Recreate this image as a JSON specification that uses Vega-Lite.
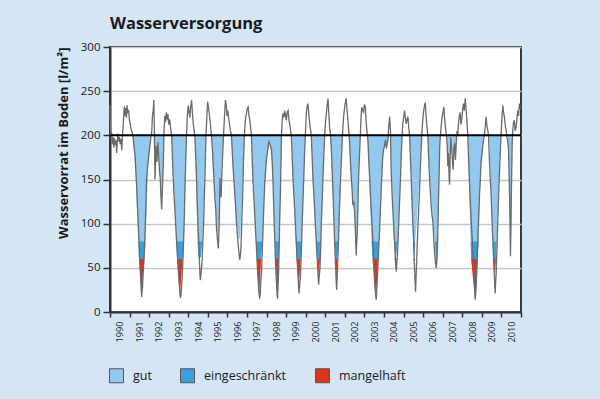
{
 "$schema": "https://vega.github.io/schema/vega-lite/v6.json",
 "width": 411, "height": 265,
 "autosize": {"type": "none"},
 "padding": {"left": 110, "top": 47, "right": 79, "bottom": 87},
 "background": "#d4e6f6",
 "title": {"text": "Wasserversorgung", "anchor": "start", "frame": "group", "fontSize": 16.5, "font": "Open Sans", "fontWeight": "bold", "color": "#1a1a1a", "offset": 9},
 "config": {
  "font": "Open Sans",
  "view": {"fill": "white", "stroke": "#3a3a3a", "strokeWidth": 2},
  "axisX": {"labelAngle": -90, "labelOffset": 9.8, "labelFontSize": 9.2, "labelColor": "#1a1a1a", "labelPadding": 4, "labelOverlap": false, "labelFlush": false, "labelBound": false, "grid": false, "domainColor": "#333", "domainWidth": 2, "tickColor": "#333", "tickWidth": 1.5, "tickSize": 5},
  "axisY": {"grid": true, "gridColor": "#c6c6c6", "gridWidth": 1.5, "domainColor": "#333", "domainWidth": 2, "tickColor": "#333", "tickWidth": 1.5, "tickSize": 7, "labelFontSize": 11.5, "labelColor": "#1a1a1a", "labelPadding": 3, "titleFontSize": 13, "titleFontWeight": "bold", "titleColor": "#1a1a1a", "titleAnchor": "end", "titlePadding": 10},
  "legend": {"orient": "none", "legendX": -1, "legendY": 321, "direction": "horizontal", "symbolType": "square", "symbolSize": 196, "symbolStrokeColor": "#555", "symbolStrokeWidth": 1, "symbolOpacity": 1, "labelFontSize": 12.5, "labelColor": "#1a1a1a", "labelOffset": 9, "columnPadding": 26, "padding": 0, "title": null}
 },
 "datasets": {
  "line": [
   {"t":1990.00,"v":234},{"t":1990.02,"v":212},{"t":1990.04,"v":200},{"t":1990.06,"v":196},{"t":1990.09,"v":203},{"t":1990.12,"v":190},{"t":1990.15,"v":198},{"t":1990.19,"v":186},{"t":1990.23,"v":197},{"t":1990.27,"v":189},{"t":1990.31,"v":194},{"t":1990.34,"v":180},{"t":1990.37,"v":192},{"t":1990.40,"v":202},{"t":1990.44,"v":193},{"t":1990.48,"v":198},{"t":1990.52,"v":190},{"t":1990.56,"v":196},{"t":1990.60,"v":183},{"t":1990.64,"v":200},{"t":1990.68,"v":214},{"t":1990.71,"v":226},{"t":1990.74,"v":233},{"t":1990.77,"v":222},{"t":1990.80,"v":231},{"t":1990.84,"v":220},{"t":1990.87,"v":234},{"t":1990.91,"v":225},{"t":1990.95,"v":229},{"t":1990.99,"v":218},{"t":1991.04,"v":212},{"t":1991.09,"v":206},{"t":1991.14,"v":203},{"t":1991.19,"v":196},
   {"t":1991.24,"v":185},{"t":1991.28,"v":178},{"t":1991.32,"v":160},{"t":1991.36,"v":144},{"t":1991.40,"v":120},{"t":1991.44,"v":102},{"t":1991.48,"v":80},{"t":1991.51,"v":64},{"t":1991.55,"v":45},{"t":1991.58,"v":31},{"t":1991.62,"v":17},{"t":1991.64,"v":24},{"t":1991.66,"v":27},{"t":1991.69,"v":42},{"t":1991.73,"v":57},{"t":1991.76,"v":70},{"t":1991.79,"v":87},{"t":1991.83,"v":120},{"t":1991.87,"v":151},{"t":1991.91,"v":162},{"t":1991.95,"v":170},{"t":1991.99,"v":180},{"t":1992.04,"v":189},{"t":1992.09,"v":198},{"t":1992.13,"v":203},{"t":1992.17,"v":222},{"t":1992.21,"v":229},{"t":1992.24,"v":240},{"t":1992.27,"v":205},
   {"t":1992.30,"v":150},{"t":1992.33,"v":172},{"t":1992.36,"v":188},{"t":1992.39,"v":170},{"t":1992.42,"v":180},{"t":1992.45,"v":192},{"t":1992.49,"v":175},{"t":1992.53,"v":160},{"t":1992.57,"v":150},{"t":1992.60,"v":132},{"t":1992.64,"v":116},{"t":1992.68,"v":140},{"t":1992.72,"v":165},{"t":1992.76,"v":205},{"t":1992.80,"v":222},{"t":1992.84,"v":215},{"t":1992.88,"v":226},{"t":1992.92,"v":218},{"t":1992.96,"v":224},{"t":1993.00,"v":212},{"t":1993.05,"v":218},{"t":1993.10,"v":208},{"t":1993.15,"v":200},
   {"t":1993.19,"v":175},{"t":1993.23,"v":151},{"t":1993.28,"v":130},{"t":1993.32,"v":114},{"t":1993.36,"v":97},{"t":1993.40,"v":80},{"t":1993.44,"v":65},{"t":1993.48,"v":50},{"t":1993.53,"v":35},{"t":1993.57,"v":22},{"t":1993.60,"v":16},{"t":1993.63,"v":20},{"t":1993.66,"v":30},{"t":1993.69,"v":40},{"t":1993.73,"v":60},{"t":1993.76,"v":80},{"t":1993.80,"v":110},{"t":1993.83,"v":140},{"t":1993.87,"v":172},{"t":1993.91,"v":200},{"t":1993.95,"v":222},{"t":1994.00,"v":234},{"t":1994.04,"v":226},{"t":1994.08,"v":220},{"t":1994.12,"v":232},{"t":1994.17,"v":240},{"t":1994.21,"v":225},{"t":1994.25,"v":214},{"t":1994.30,"v":205},{"t":1994.34,"v":198},
   {"t":1994.38,"v":175},{"t":1994.42,"v":151},{"t":1994.46,"v":120},{"t":1994.50,"v":95},{"t":1994.54,"v":78},{"t":1994.57,"v":58},{"t":1994.60,"v":40},{"t":1994.62,"v":36},{"t":1994.65,"v":44},{"t":1994.68,"v":50},{"t":1994.71,"v":60},{"t":1994.74,"v":78},{"t":1994.78,"v":98},{"t":1994.82,"v":130},{"t":1994.85,"v":151},{"t":1994.88,"v":178},{"t":1994.91,"v":202},{"t":1994.95,"v":222},{"t":1994.99,"v":238},{"t":1995.03,"v":232},{"t":1995.07,"v":225},{"t":1995.10,"v":219},{"t":1995.15,"v":208},{"t":1995.19,"v":198},
   {"t":1995.23,"v":185},{"t":1995.27,"v":168},{"t":1995.31,"v":150},{"t":1995.36,"v":128},{"t":1995.40,"v":118},{"t":1995.44,"v":95},{"t":1995.49,"v":82},{"t":1995.53,"v":72},{"t":1995.56,"v":85},{"t":1995.59,"v":110},{"t":1995.62,"v":152},{"t":1995.65,"v":140},{"t":1995.68,"v":130},{"t":1995.71,"v":155},{"t":1995.75,"v":175},{"t":1995.78,"v":190},{"t":1995.82,"v":208},{"t":1995.86,"v":226},{"t":1995.90,"v":240},{"t":1995.94,"v":234},{"t":1995.98,"v":222},{"t":1996.02,"v":228},{"t":1996.06,"v":220},{"t":1996.10,"v":214},{"t":1996.15,"v":205},{"t":1996.20,"v":202},
   {"t":1996.25,"v":180},{"t":1996.29,"v":163},{"t":1996.33,"v":150},{"t":1996.38,"v":132},{"t":1996.42,"v":118},{"t":1996.46,"v":102},{"t":1996.50,"v":90},{"t":1996.55,"v":76},{"t":1996.59,"v":66},{"t":1996.63,"v":59},{"t":1996.66,"v":64},{"t":1996.69,"v":72},{"t":1996.72,"v":92},{"t":1996.75,"v":114},{"t":1996.79,"v":140},{"t":1996.82,"v":170},{"t":1996.86,"v":196},{"t":1996.89,"v":210},{"t":1996.93,"v":220},{"t":1996.97,"v":224},{"t":1997.01,"v":230},{"t":1997.06,"v":232},{"t":1997.10,"v":222},{"t":1997.14,"v":218},{"t":1997.19,"v":208},{"t":1997.23,"v":198},
   {"t":1997.27,"v":170},{"t":1997.31,"v":146},{"t":1997.36,"v":125},{"t":1997.40,"v":108},{"t":1997.44,"v":90},{"t":1997.48,"v":74},{"t":1997.52,"v":55},{"t":1997.57,"v":36},{"t":1997.61,"v":22},{"t":1997.65,"v":15},{"t":1997.68,"v":22},{"t":1997.71,"v":35},{"t":1997.74,"v":45},{"t":1997.78,"v":70},{"t":1997.82,"v":93},{"t":1997.86,"v":120},{"t":1997.91,"v":146},{"t":1997.95,"v":160},{"t":1997.99,"v":172},{"t":1998.04,"v":180},{"t":1998.08,"v":187},{"t":1998.12,"v":193},{"t":1998.16,"v":191},{"t":1998.20,"v":188},{"t":1998.25,"v":184},
   {"t":1998.29,"v":168},{"t":1998.33,"v":146},{"t":1998.37,"v":115},{"t":1998.42,"v":81},{"t":1998.46,"v":55},{"t":1998.50,"v":36},{"t":1998.53,"v":22},{"t":1998.56,"v":15},{"t":1998.59,"v":30},{"t":1998.62,"v":51},{"t":1998.66,"v":95},{"t":1998.71,"v":138},{"t":1998.76,"v":198},{"t":1998.80,"v":218},{"t":1998.84,"v":225},{"t":1998.88,"v":220},{"t":1998.93,"v":228},{"t":1998.97,"v":222},{"t":1999.01,"v":217},{"t":1999.05,"v":226},{"t":1999.10,"v":228},{"t":1999.14,"v":218},{"t":1999.18,"v":213},{"t":1999.23,"v":205},{"t":1999.27,"v":198},
   {"t":1999.31,"v":175},{"t":1999.35,"v":151},{"t":1999.40,"v":130},{"t":1999.44,"v":114},{"t":1999.48,"v":95},{"t":1999.52,"v":78},{"t":1999.56,"v":60},{"t":1999.61,"v":40},{"t":1999.64,"v":28},{"t":1999.66,"v":21},{"t":1999.69,"v":30},{"t":1999.73,"v":40},{"t":1999.77,"v":65},{"t":1999.81,"v":93},{"t":1999.85,"v":120},{"t":1999.90,"v":151},{"t":1999.94,"v":178},{"t":1999.98,"v":200},{"t":2000.03,"v":225},{"t":2000.08,"v":234},{"t":2000.12,"v":235},{"t":2000.17,"v":221},{"t":2000.22,"v":210},{"t":2000.26,"v":205},{"t":2000.29,"v":198},
   {"t":2000.33,"v":175},{"t":2000.37,"v":151},{"t":2000.42,"v":132},{"t":2000.46,"v":114},{"t":2000.50,"v":95},{"t":2000.55,"v":76},{"t":2000.59,"v":58},{"t":2000.63,"v":42},{"t":2000.66,"v":31},{"t":2000.69,"v":40},{"t":2000.73,"v":50},{"t":2000.77,"v":75},{"t":2000.80,"v":102},{"t":2000.84,"v":125},{"t":2000.88,"v":151},{"t":2000.92,"v":175},{"t":2000.97,"v":200},{"t":2001.01,"v":215},{"t":2001.06,"v":226},{"t":2001.10,"v":235},{"t":2001.14,"v":242},{"t":2001.18,"v":225},{"t":2001.22,"v":209},{"t":2001.27,"v":200},
   {"t":2001.31,"v":185},{"t":2001.35,"v":160},{"t":2001.40,"v":132},{"t":2001.44,"v":105},{"t":2001.48,"v":76},{"t":2001.52,"v":55},{"t":2001.55,"v":38},{"t":2001.58,"v":25},{"t":2001.61,"v":40},{"t":2001.65,"v":64},{"t":2001.69,"v":92},{"t":2001.73,"v":121},{"t":2001.77,"v":145},{"t":2001.82,"v":170},{"t":2001.86,"v":192},{"t":2001.90,"v":209},{"t":2001.94,"v":222},{"t":2001.99,"v":232},{"t":2002.03,"v":238},{"t":2002.07,"v":242},{"t":2002.11,"v":228},{"t":2002.16,"v":217},{"t":2002.20,"v":205},
   {"t":2002.24,"v":193},{"t":2002.28,"v":172},{"t":2002.33,"v":151},{"t":2002.37,"v":138},{"t":2002.41,"v":121},{"t":2002.45,"v":125},{"t":2002.48,"v":118},{"t":2002.50,"v":114},{"t":2002.54,"v":90},{"t":2002.58,"v":64},{"t":2002.61,"v":80},{"t":2002.63,"v":87},{"t":2002.67,"v":120},{"t":2002.70,"v":151},{"t":2002.75,"v":178},{"t":2002.79,"v":200},{"t":2002.83,"v":222},{"t":2002.87,"v":232},{"t":2002.91,"v":228},{"t":2002.96,"v":226},{"t":2003.00,"v":235},{"t":2003.05,"v":232},{"t":2003.09,"v":215},{"t":2003.13,"v":204},{"t":2003.18,"v":194},
   {"t":2003.22,"v":172},{"t":2003.27,"v":151},{"t":2003.31,"v":132},{"t":2003.35,"v":114},{"t":2003.40,"v":95},{"t":2003.44,"v":76},{"t":2003.48,"v":55},{"t":2003.52,"v":34},{"t":2003.56,"v":22},{"t":2003.60,"v":14},{"t":2003.63,"v":25},{"t":2003.66,"v":38},{"t":2003.69,"v":50},{"t":2003.73,"v":72},{"t":2003.78,"v":95},{"t":2003.82,"v":118},{"t":2003.86,"v":140},{"t":2003.90,"v":160},{"t":2003.94,"v":177},{"t":2003.99,"v":185},{"t":2004.03,"v":189},{"t":2004.08,"v":195},{"t":2004.12,"v":185},{"t":2004.16,"v":190},{"t":2004.20,"v":193},{"t":2004.24,"v":210},{"t":2004.29,"v":221},{"t":2004.33,"v":205},
   {"t":2004.37,"v":157},{"t":2004.41,"v":135},{"t":2004.46,"v":112},{"t":2004.50,"v":95},{"t":2004.54,"v":78},{"t":2004.58,"v":60},{"t":2004.61,"v":50},{"t":2004.63,"v":46},{"t":2004.66,"v":58},{"t":2004.69,"v":66},{"t":2004.71,"v":74},{"t":2004.75,"v":100},{"t":2004.80,"v":127},{"t":2004.84,"v":150},{"t":2004.88,"v":176},{"t":2004.92,"v":198},{"t":2004.96,"v":213},{"t":2005.01,"v":222},{"t":2005.05,"v":228},{"t":2005.09,"v":220},{"t":2005.14,"v":213},{"t":2005.18,"v":218},{"t":2005.22,"v":221},{"t":2005.27,"v":208},{"t":2005.31,"v":198},
   {"t":2005.35,"v":175},{"t":2005.39,"v":151},{"t":2005.43,"v":125},{"t":2005.47,"v":102},{"t":2005.50,"v":90},{"t":2005.52,"v":76},{"t":2005.55,"v":55},{"t":2005.58,"v":38},{"t":2005.61,"v":23},{"t":2005.64,"v":40},{"t":2005.68,"v":64},{"t":2005.72,"v":90},{"t":2005.77,"v":114},{"t":2005.81,"v":135},{"t":2005.85,"v":159},{"t":2005.89,"v":180},{"t":2005.94,"v":204},{"t":2005.99,"v":220},{"t":2006.04,"v":230},{"t":2006.08,"v":235},{"t":2006.11,"v":237},{"t":2006.15,"v":222},{"t":2006.19,"v":211},{"t":2006.24,"v":200},
   {"t":2006.28,"v":175},{"t":2006.33,"v":151},{"t":2006.37,"v":135},{"t":2006.41,"v":121},{"t":2006.45,"v":110},{"t":2006.50,"v":102},{"t":2006.54,"v":85},{"t":2006.58,"v":68},{"t":2006.62,"v":58},{"t":2006.67,"v":50},{"t":2006.70,"v":57},{"t":2006.72,"v":64},{"t":2006.76,"v":100},{"t":2006.79,"v":132},{"t":2006.82,"v":160},{"t":2006.85,"v":189},{"t":2006.90,"v":205},{"t":2006.95,"v":217},{"t":2007.00,"v":225},{"t":2007.06,"v":232},{"t":2007.10,"v":218},{"t":2007.14,"v":209},{"t":2007.19,"v":200},{"t":2007.23,"v":189},
   {"t":2007.26,"v":165},{"t":2007.29,"v":180},{"t":2007.33,"v":150},{"t":2007.35,"v":144},{"t":2007.38,"v":175},{"t":2007.42,"v":198},{"t":2007.46,"v":185},{"t":2007.50,"v":170},{"t":2007.53,"v":161},{"t":2007.57,"v":185},{"t":2007.61,"v":191},{"t":2007.65,"v":172},{"t":2007.69,"v":190},{"t":2007.73,"v":205},{"t":2007.77,"v":200},{"t":2007.81,"v":215},{"t":2007.85,"v":222},{"t":2007.89,"v":226},{"t":2007.93,"v":212},{"t":2007.98,"v":219},{"t":2008.02,"v":230},{"t":2008.06,"v":236},{"t":2008.10,"v":228},{"t":2008.15,"v":242},{"t":2008.19,"v":230},{"t":2008.23,"v":219},{"t":2008.28,"v":200},
   {"t":2008.32,"v":175},{"t":2008.37,"v":146},{"t":2008.41,"v":125},{"t":2008.45,"v":106},{"t":2008.50,"v":85},{"t":2008.54,"v":70},{"t":2008.58,"v":50},{"t":2008.61,"v":40},{"t":2008.64,"v":22},{"t":2008.66,"v":14},{"t":2008.69,"v":22},{"t":2008.72,"v":34},{"t":2008.76,"v":60},{"t":2008.79,"v":80},{"t":2008.84,"v":110},{"t":2008.88,"v":132},{"t":2008.92,"v":150},{"t":2008.96,"v":170},{"t":2009.01,"v":180},{"t":2009.05,"v":189},{"t":2009.09,"v":195},{"t":2009.13,"v":200},{"t":2009.18,"v":212},{"t":2009.22,"v":221},{"t":2009.26,"v":210},{"t":2009.30,"v":206},{"t":2009.34,"v":200},
   {"t":2009.39,"v":170},{"t":2009.43,"v":150},{"t":2009.47,"v":135},{"t":2009.51,"v":110},{"t":2009.56,"v":81},{"t":2009.60,"v":60},{"t":2009.64,"v":40},{"t":2009.68,"v":21},{"t":2009.71,"v":35},{"t":2009.73,"v":44},{"t":2009.77,"v":70},{"t":2009.81,"v":100},{"t":2009.85,"v":130},{"t":2009.90,"v":157},{"t":2009.94,"v":180},{"t":2009.98,"v":200},{"t":2010.03,"v":222},{"t":2010.07,"v":234},{"t":2010.11,"v":226},{"t":2010.15,"v":221},{"t":2010.20,"v":210},{"t":2010.24,"v":206},{"t":2010.28,"v":198},{"t":2010.32,"v":194},{"t":2010.36,"v":185},{"t":2010.41,"v":138},{"t":2010.44,"v":100},{"t":2010.46,"v":63},{"t":2010.49,"v":100},{"t":2010.51,"v":138},{"t":2010.55,"v":190},{"t":2010.58,"v":206},{"t":2010.62,"v":215},{"t":2010.66,"v":217},{"t":2010.70,"v":205},{"t":2010.75,"v":209},{"t":2010.79,"v":218},{"t":2010.83,"v":228},{"t":2010.87,"v":222},{"t":2010.92,"v":236},{"t":2010.96,"v":230}
  ],
  "fill": [
   {"t":1990.00,"f":200},{"t":1991.15,"f":200},{"t":1991.30,"f":160},{"t":1991.45,"f":80},{"t":1991.48,"f":60},{"t":1991.62,"f":22},{"t":1991.75,"f":60},{"t":1991.82,"f":80},{"t":1991.95,"f":165},{"t":1992.10,"f":200},
   {"t":1992.22,"f":200},{"t":1992.30,"f":152},{"t":1992.36,"f":185},{"t":1992.42,"f":168},{"t":1992.48,"f":185},{"t":1992.55,"f":150},{"t":1992.64,"f":118},{"t":1992.70,"f":150},{"t":1992.76,"f":200},
   {"t":1993.14,"f":200},{"t":1993.25,"f":150},{"t":1993.40,"f":80},{"t":1993.43,"f":60},{"t":1993.57,"f":18},{"t":1993.71,"f":60},{"t":1993.78,"f":80},{"t":1993.85,"f":140},{"t":1993.91,"f":200},
   {"t":1994.33,"f":200},{"t":1994.42,"f":140},{"t":1994.47,"f":80},{"t":1994.52,"f":62},{"t":1994.64,"f":62},{"t":1994.72,"f":80},{"t":1994.80,"f":130},{"t":1994.90,"f":200},
   {"t":1995.18,"f":200},{"t":1995.30,"f":160},{"t":1995.42,"f":110},{"t":1995.50,"f":84},{"t":1995.56,"f":95},{"t":1995.64,"f":140},{"t":1995.72,"f":175},{"t":1995.80,"f":200},
   {"t":1996.20,"f":200},{"t":1996.30,"f":160},{"t":1996.45,"f":105},{"t":1996.58,"f":82},{"t":1996.65,"f":85},{"t":1996.75,"f":130},{"t":1996.88,"f":200},
   {"t":1997.22,"f":200},{"t":1997.32,"f":145},{"t":1997.45,"f":80},{"t":1997.50,"f":60},{"t":1997.63,"f":20},{"t":1997.72,"f":60},{"t":1997.79,"f":80},{"t":1997.88,"f":130},{"t":1997.97,"f":165},{"t":1998.08,"f":187},{"t":1998.16,"f":190},{"t":1998.25,"f":184},{"t":1998.33,"f":146},
   {"t":1998.42,"f":80},{"t":1998.47,"f":60},{"t":1998.55,"f":18},{"t":1998.62,"f":60},{"t":1998.67,"f":80},{"t":1998.72,"f":140},{"t":1998.77,"f":200},
   {"t":1999.27,"f":200},{"t":1999.36,"f":150},{"t":1999.49,"f":80},{"t":1999.53,"f":60},{"t":1999.65,"f":29},{"t":1999.74,"f":60},{"t":1999.80,"f":80},{"t":1999.90,"f":150},{"t":1999.98,"f":200},
   {"t":2000.28,"f":200},{"t":2000.40,"f":130},{"t":2000.54,"f":80},{"t":2000.60,"f":60},{"t":2000.66,"f":40},{"t":2000.73,"f":60},{"t":2000.79,"f":80},{"t":2000.88,"f":150},{"t":2000.96,"f":200},
   {"t":2001.25,"f":200},{"t":2001.36,"f":150},{"t":2001.48,"f":80},{"t":2001.53,"f":60},{"t":2001.57,"f":31},{"t":2001.61,"f":60},{"t":2001.69,"f":80},{"t":2001.80,"f":160},{"t":2001.88,"f":200},
   {"t":2002.20,"f":200},{"t":2002.32,"f":150},{"t":2002.45,"f":118},{"t":2002.55,"f":82},{"t":2002.60,"f":82},{"t":2002.70,"f":150},{"t":2002.78,"f":200},
   {"t":2003.16,"f":200},{"t":2003.25,"f":150},{"t":2003.36,"f":80},{"t":2003.41,"f":60},{"t":2003.60,"f":14},{"t":2003.69,"f":60},{"t":2003.75,"f":80},{"t":2003.86,"f":140},{"t":2003.94,"f":177},{"t":2004.03,"f":189},{"t":2004.12,"f":186},{"t":2004.20,"f":193},{"t":2004.27,"f":200},
   {"t":2004.34,"f":200},{"t":2004.42,"f":140},{"t":2004.51,"f":80},{"t":2004.60,"f":58},{"t":2004.71,"f":80},{"t":2004.80,"f":127},{"t":2004.88,"f":176},{"t":2004.94,"f":200},
   {"t":2005.30,"f":200},{"t":2005.40,"f":150},{"t":2005.48,"f":80},{"t":2005.55,"f":58},{"t":2005.60,"f":80},{"t":2005.70,"f":110},{"t":2005.80,"f":150},{"t":2005.93,"f":200},
   {"t":2006.23,"f":200},{"t":2006.35,"f":150},{"t":2006.50,"f":105},{"t":2006.60,"f":80},{"t":2006.64,"f":60},{"t":2006.67,"f":52},{"t":2006.70,"f":60},{"t":2006.73,"f":80},{"t":2006.80,"f":140},{"t":2006.87,"f":200},
   {"t":2007.22,"f":200},{"t":2007.26,"f":172},{"t":2007.30,"f":182},{"t":2007.35,"f":148},{"t":2007.40,"f":190},{"t":2007.43,"f":200},{"t":2007.48,"f":200},{"t":2007.53,"f":165},{"t":2007.58,"f":188},{"t":2007.63,"f":175},{"t":2007.70,"f":200},
   {"t":2008.27,"f":200},{"t":2008.35,"f":140},{"t":2008.42,"f":80},{"t":2008.45,"f":60},{"t":2008.66,"f":12},{"t":2008.79,"f":60},{"t":2008.84,"f":80},{"t":2008.92,"f":150},{"t":2008.98,"f":172},{"t":2009.05,"f":189},{"t":2009.13,"f":200},
   {"t":2009.38,"f":200},{"t":2009.47,"f":140},{"t":2009.56,"f":80},{"t":2009.58,"f":60},{"t":2009.66,"f":40},{"t":2009.72,"f":60},{"t":2009.76,"f":80},{"t":2009.85,"f":140},{"t":2009.98,"f":200},
   {"t":2010.33,"f":200},{"t":2010.38,"f":165},{"t":2010.46,"f":95},{"t":2010.52,"f":150},{"t":2010.56,"f":200},{"t":2011.00,"f":200}
  ]
 },
 "layer": [
  {
   "data": {"name": "fill"},
   "transform": [{"calculate": "max(datum.f, 80)", "as": "a"}],
   "mark": {"type": "area", "interpolate": "linear", "opacity": 1},
   "encoding": {
    "x": {"field": "t", "type": "quantitative", "title": null,
     "scale": {"domain": [1990, 2011], "nice": false, "zero": false},
     "axis": {"values": [1990,1991,1992,1993,1994,1995,1996,1997,1998,1999,2000,2001,2002,2003,2004,2005,2006,2007,2008,2009,2010,2011], "format": "d", "labelExpr": "datum.value < 2011 ? datum.label : ''"}},
    "y": {"field": "a", "type": "quantitative", "title": "Wasservorrat im Boden [l/m²]",
     "scale": {"domain": [0, 300], "nice": false},
     "axis": {"values": [0,50,100,150,200,250,300]}},
    "y2": {"datum": 200},
    "color": {"datum": "gut", "type": "nominal", "scale": {"domain": ["gut", "eingeschränkt", "mangelhaft"], "range": ["#93c9ee", "#3a9fdc", "#d8351f"]}}
   }
  },
  {
   "data": {"name": "fill"},
   "transform": [{"calculate": "max(min(datum.f, 80), 60)", "as": "b"}],
   "mark": {"type": "area", "interpolate": "linear", "opacity": 1},
   "encoding": {
    "x": {"field": "t", "type": "quantitative", "title": null,
     "axis": {"values": [1990,1991,1992,1993,1994,1995,1996,1997,1998,1999,2000,2001,2002,2003,2004,2005,2006,2007,2008,2009,2010,2011], "format": "d", "labelExpr": "datum.value < 2011 ? datum.label : ''"}},
    "y": {"field": "b", "type": "quantitative", "title": "Wasservorrat im Boden [l/m²]", "axis": {"values": [0,50,100,150,200,250,300]}},
    "y2": {"datum": 80},
    "color": {"datum": "eingeschränkt", "type": "nominal"}
   }
  },
  {
   "data": {"name": "fill"},
   "transform": [{"calculate": "min(datum.f, 60)", "as": "c"}],
   "mark": {"type": "area", "interpolate": "linear", "opacity": 1},
   "encoding": {
    "x": {"field": "t", "type": "quantitative", "title": null,
     "axis": {"values": [1990,1991,1992,1993,1994,1995,1996,1997,1998,1999,2000,2001,2002,2003,2004,2005,2006,2007,2008,2009,2010,2011], "format": "d", "labelExpr": "datum.value < 2011 ? datum.label : ''"}},
    "y": {"field": "c", "type": "quantitative", "title": "Wasservorrat im Boden [l/m²]", "axis": {"values": [0,50,100,150,200,250,300]}},
    "y2": {"datum": 60},
    "color": {"datum": "mangelhaft", "type": "nominal"}
   }
  },
  {
   "data": {"name": "line"},
   "mark": {"type": "line", "color": "#6b6b6b", "strokeWidth": 1.3, "interpolate": "linear"},
   "encoding": {
    "x": {"field": "t", "type": "quantitative", "title": null,
     "axis": {"values": [1990,1991,1992,1993,1994,1995,1996,1997,1998,1999,2000,2001,2002,2003,2004,2005,2006,2007,2008,2009,2010,2011], "format": "d", "labelExpr": "datum.value < 2011 ? datum.label : ''"}},
    "y": {"field": "v", "type": "quantitative", "title": "Wasservorrat im Boden [l/m²]", "axis": {"values": [0,50,100,150,200,250,300]}}
   }
  },
  {
   "data": {"values": [{}]},
   "mark": {"type": "rule", "color": "#000000", "strokeWidth": 2},
   "encoding": {"y": {"datum": 200, "axis": {"values": [0,50,100,150,200,250,300]}}}
  }
 ]
}
